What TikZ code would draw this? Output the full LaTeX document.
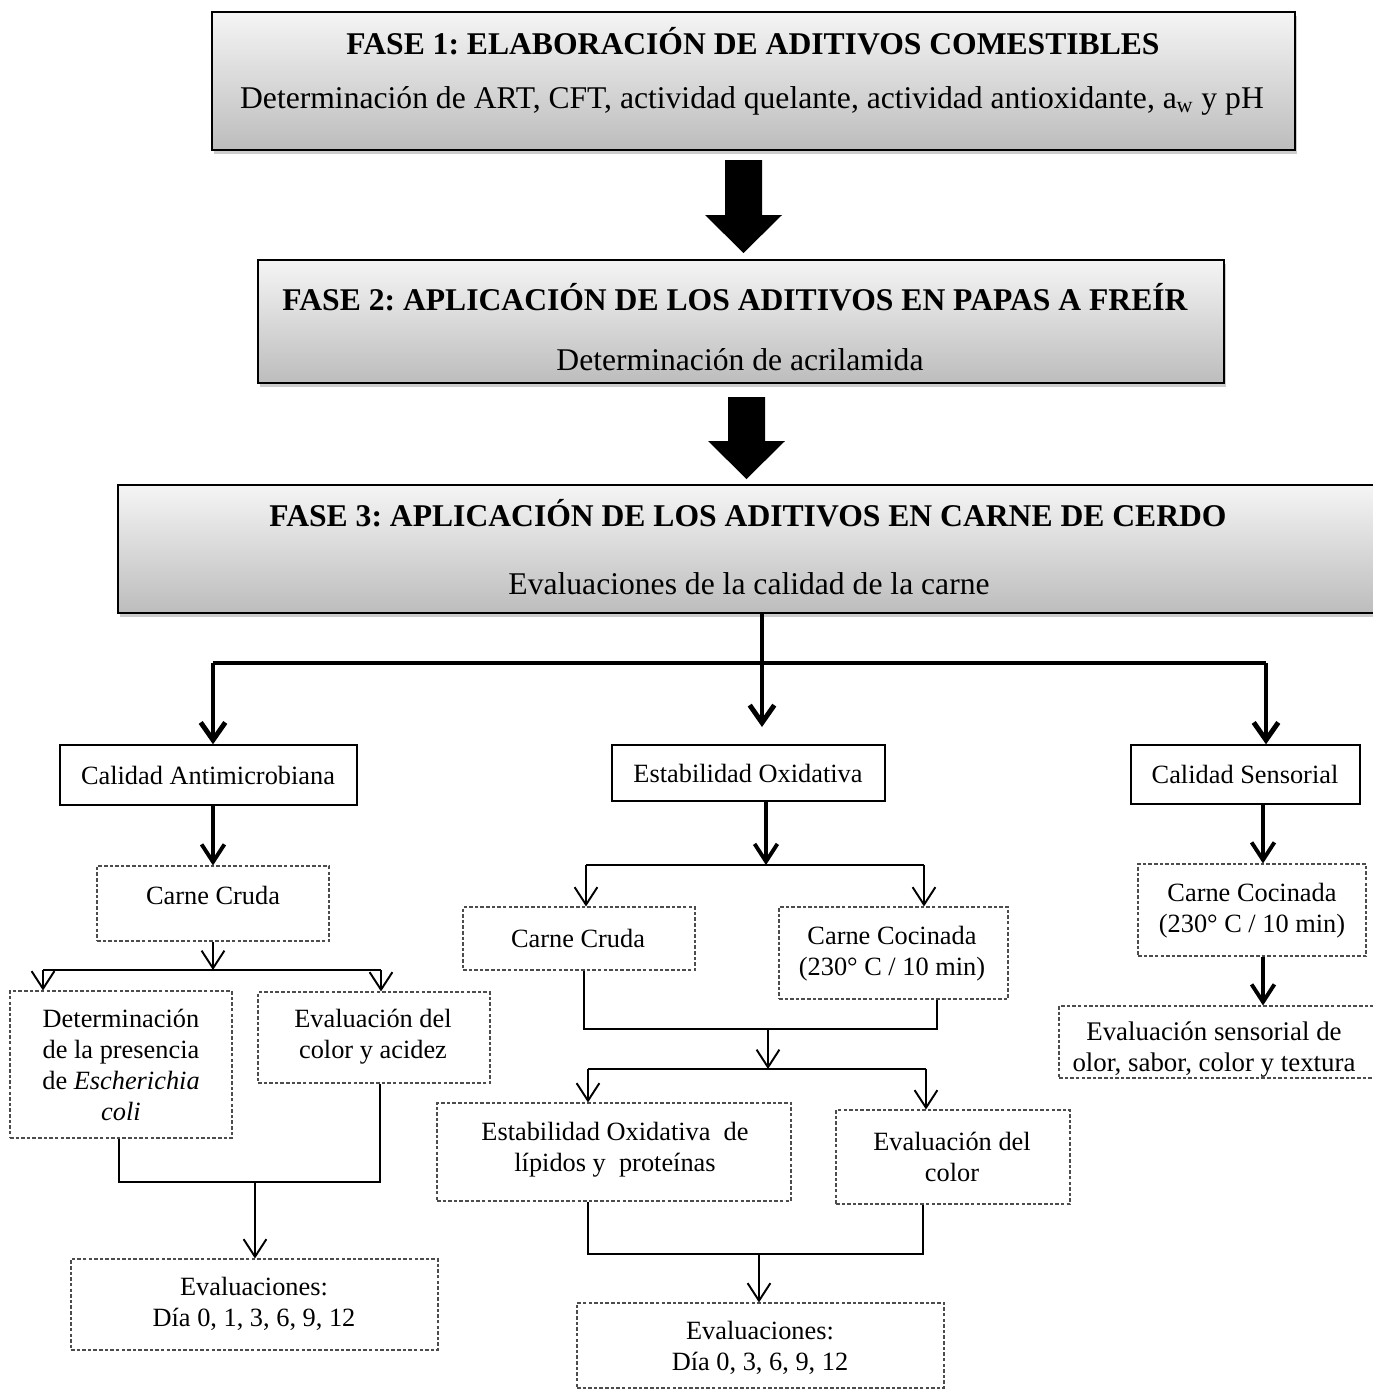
\documentclass[tikz,border=0pt]{standalone}
\usepackage{fontspec}
\setmainfont{Liberation Serif}
\usetikzlibrary{arrows.meta,fit,shadows}
\frenchspacing
\definecolor{gtop}{gray}{0.96}
\definecolor{gbot}{gray}{0.74}
\definecolor{dashgray}{gray}{0.3}
\tikzset{
  phasebox/.style={draw=black, line width=1.1pt, inner sep=0pt, top color=gtop, bottom color=gbot,
    drop shadow={shadow xshift=1.2pt, shadow yshift=-2.5pt, opacity=0.4}},
  solidbox/.style={draw=black, line width=0.8pt, inner sep=0pt},
  dbox/.style={draw=dashgray, line width=0.6pt, dash pattern=on 2pt off 1.2pt, inner sep=0pt},
  big/.style={font=\fontsize{18}{21}\selectfont, inner sep=0pt},
  bigb/.style={font=\fontsize{18}{21}\selectfont\bfseries, inner sep=0pt},
  small/.style={font=\fontsize{15}{17.6}\selectfont, align=center, inner sep=0pt},
  branch/.style={line width=2.8pt},
  brancharr/.style={line width=2.8pt, -{Straight Barb[length=10pt,width=14pt]}},
  thickarr/.style={line width=2.2pt, -{Straight Barb[length=10pt,width=13pt]}},
  thinline/.style={line width=1.1pt},
  thinarr/.style={line width=1.1pt, -{Straight Barb[length=10pt,width=13pt]}},
}
\begin{document}
\begin{tikzpicture}[x=0.02cm, y=-0.02cm]
\useasboundingbox (0,0) rectangle (1373,1390);

% ---------- phase boxes ----------
\node[phasebox, fit={(212,12) (1295,150)}] (b1) {};
\node[bigb, anchor=base] (t1) at (753,54) {FASE 1: ELABORACIÓN DE ADITIVOS COMESTIBLES};
\node[big, anchor=base] (s1) at (752,108) {Determinación de ART, CFT, actividad quelante, actividad antioxidante, a\textsubscript{w} y pH};

\node[phasebox, fit={(258,260) (1224,383)}] (b2) {};
\node[bigb, anchor=base] (t2) at (735,310) {FASE 2: APLICACIÓN DE LOS ADITIVOS EN PAPAS A FREÍR};
\node[big, anchor=base] (s2) at (740,370) {Determinación de acrilamida};

\node[phasebox, fit={(118,485) (1395,613)}] (b3) {};
\node[bigb, anchor=base] (t3) at (748,526) {FASE 3: APLICACIÓN DE LOS ADITIVOS EN CARNE DE CERDO};
\node[big, anchor=base] (s3) at (749,594) {Evaluaciones de la calidad de la carne};

% ---------- block arrows ----------
\fill[black] (725,160) -- (762,160) -- (762,215) -- (782,215) -- (743.5,253) -- (705,215) -- (725,215) -- cycle;
\fill[black] (728,397) -- (765,397) -- (765,441) -- (785,441) -- (746.5,479) -- (708,441) -- (728,441) -- cycle;

% ---------- level 1 boxes ----------
\node[solidbox, fit={(60,745) (357,805)}] (ca) {};
\node[small] (cat) at (208,775) {Calidad Antimicrobiana};
\node[solidbox, fit={(612,745) (885,801)}] (eo) {};
\node[small] (eot) at (748,773) {Estabilidad Oxidativa};
\node[solidbox, fit={(1131,745) (1360,804)}] (cs) {};
\node[small] (cst) at (1245,774) {Calidad Sensorial};

% ---------- left column ----------
\node[dbox, fit={(97,866) (329,941)}] (cc1) {};
\node[small] (cc1t) at (213,895) {Carne Cruda};
\node[dbox, fit={(10,991) (232,1138)}] (det) {};
\node[small] (dett) at (121,1065) {Determinación\\de la presencia\\de \textit{Escherichia}\\\textit{coli}};
\node[dbox, fit={(258,992) (490,1083)}] (acid) {};
\node[small] (acidt) at (373,1037) {Evaluación del\\color y acidez};
\node[dbox, fit={(71,1259) (438,1350)}] (ev1) {};
\node[small] (ev1t) at (254,1304) {Evaluaciones:\\Día 0, 1, 3, 6, 9, 12};

% ---------- middle column ----------
\node[dbox, fit={(463,907) (695,970)}] (ccM) {};
\node[small] (ccMt) at (578,938) {Carne Cruda};
\node[dbox, fit={(779,907) (1008,999)}] (ccoM) {};
\node[small] (ccoMt) at (892,954) {Carne Cocinada\\(230° C / 10 min)};
\node[dbox, fit={(437,1103) (791,1201)}] (eol) {};
\node[small] (eolt) at (615,1150) {Estabilidad Oxidativa\ \ de\\lípidos y\ \ proteínas};
\node[dbox, fit={(836,1110) (1070,1204)}] (evc) {};
\node[small] (evct) at (952,1157) {Evaluación del\\color};
\node[dbox, fit={(577,1303) (944,1388)}] (ev2) {};
\node[small] (ev2t) at (760,1348) {Evaluaciones:\\Día 0, 3, 6, 9, 12};

% ---------- right column ----------
\node[dbox, fit={(1138,864) (1366,956)}] (ccR) {};
\node[small] (ccRt) at (1252,911) {Carne Cocinada\\(230° C / 10 min)};
\node[dbox, fit={(1059,1006) (1380,1078)}] (es) {};
\node[small, font=\fontsize{15.3}{17.6}\selectfont] (est) at (1214,1050) {Evaluación sensorial de\\olor, sabor, color y textura};

% ---------- top branching ----------
\coordinate (jL) at (213,663);
\coordinate (jM) at (762,663);
\coordinate (jR) at (1266,663);
\coordinate (tipM) at (762,727);
\draw[branch] (jL) -- (jR);
\draw[brancharr] (b3.south -| jM) -- (tipM);
\draw[brancharr] (jL) -- (jL |- ca.north);
\draw[brancharr] (jR) -- (jR |- cs.north);

% ---------- level 1 -> level 2 ----------
\draw[thickarr] (cc1.north |- ca.south) -- (cc1.north);
\coordinate (eoj) at (766,865);
\coordinate (eoL) at (586,865);
\coordinate (eoR) at (924,865);
\draw[thickarr] (eoj |- eo.south) -- (eoj);
\draw[thinline] (eoL) -- (eoR);
\draw[thinarr] (eoL) -- (eoL |- ccM.north);
\draw[thinarr] (eoR) -- (eoR |- ccoM.north);
\coordinate (sx) at (1263,900);
\draw[thickarr] (sx |- cs.south) -- (sx |- ccR.north);
\draw[thickarr] (sx |- ccR.south) -- (sx |- es.north);

% ---------- left sub-tree ----------
\coordinate (lj) at (213,970);
\coordinate (lL) at (43,970);
\coordinate (lR) at (381,970);
\draw[thinarr] (cc1.south) -- (lj);
\draw[thinline] (lL) -- (lR);
\draw[thinarr] (lL) -- (lL |- det.north);
\draw[thinarr] (lR) -- (lR |- acid.north);
\coordinate (detx) at (119,1182);
\coordinate (acx) at (380,1182);
\coordinate (lb) at (255,1182);
\draw[thinline] (detx |- det.south) -- (detx) -- (acx) -- (acx |- acid.south);
\draw[thinarr] (lb) -- (lb |- ev1.north);

% ---------- middle sub-tree ----------
\coordinate (m1L) at (584,1029);
\coordinate (m1R) at (937,1029);
\coordinate (m1j) at (768,1029);
\coordinate (m2j) at (768,1069);
\coordinate (m2L) at (588,1069);
\coordinate (m2R) at (926,1069);
\draw[thinline] (m1L |- ccM.south) -- (m1L) -- (m1R) -- (m1R |- ccoM.south);
\draw[thinarr] (m1j) -- (m2j);
\draw[thinline] (m2L) -- (m2R);
\draw[thinarr] (m2L) -- (m2L |- eol.north);
\draw[thinarr] (m2R) -- (m2R |- evc.north);
\coordinate (m3L) at (588,1254);
\coordinate (m3R) at (923,1254);
\coordinate (m3j) at (759,1254);
\draw[thinline] (m3L |- eol.south) -- (m3L) -- (m3R) -- (m3R |- evc.south);
\draw[thinarr] (m3j) -- (m3j |- ev2.north);
\end{tikzpicture}
\end{document}
